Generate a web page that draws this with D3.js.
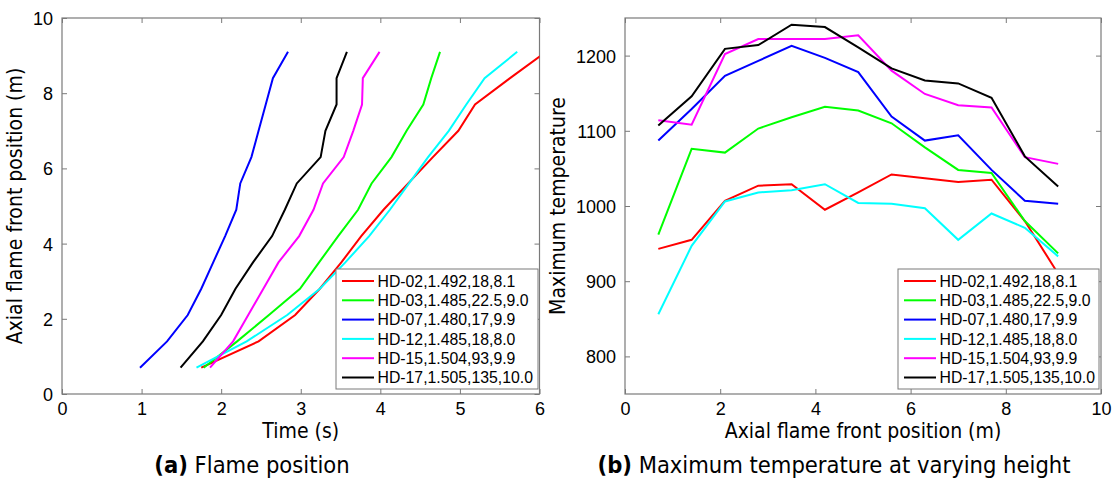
<!DOCTYPE html>
<html>
<head>
<meta charset="utf-8">
<script src="https://cdn.jsdelivr.net/npm/d3@7"></script>
<style>
  body { margin: 0; background: #fff; }
  .tick text { font-family: "Liberation Sans", Arial, sans-serif; font-size: 18px; fill: #000; }
  .lbl { font-family: "DejaVu Sans Condensed", "DejaVu Sans", sans-serif; font-stretch: condensed; fill: #000; }
</style>
</head>
<body>
<div class="chart"></div>
<script>
var svgWidth = 1118;
var svgHeight = 492;

// series names (legend)
var series = ["HD-02,1.492,18,8.1", "HD-03,1.485,22.5,9.0", "HD-07,1.480,17,9.9",
              "HD-12,1.485,18,8.0", "HD-15,1.504,93,9.9", "HD-17,1.505,135,10.0"];
var colors = ["#ff0000", "#00ff00", "#0000ff", "#00ffff", "#ff00ff", "#000000"];

// axial positions (m) where the flame front / temperature were recorded
var positions = [0.7, 1.4, 2.1, 2.8, 3.5, 4.2, 4.9, 5.6, 6.3, 7.0, 7.7, 8.4, 9.1];

// (a) time (s) at which the flame reaches each position
var timeHD02 = [1.75, 2.47, 2.93, 3.24, 3.51, 3.76, 4.04, 4.35, 4.66, 4.98, 5.19, 5.63, 6.08];
var timeHD03 = [1.78, 2.2, 2.6, 2.99, 3.23, 3.47, 3.72, 3.89, 4.14, 4.33, 4.54, 4.64, 4.75];
var timeHD07 = [0.98, 1.32, 1.58, 1.75, 1.9, 2.05, 2.19, 2.24, 2.38, 2.47, 2.56, 2.65, 2.84];
var timeHD12 = [1.69, 2.32, 2.83, 3.24, 3.56, 3.86, 4.12, 4.36, 4.6, 4.86, 5.08, 5.31, 5.72];
var timeHD15 = [1.86, 2.15, 2.34, 2.53, 2.72, 2.98, 3.16, 3.28, 3.54, 3.66, 3.77, 3.78, 3.99];
var timeHD17 = [1.49, 1.77, 2.0, 2.18, 2.4, 2.64, 2.8, 2.95, 3.25, 3.31, 3.45, 3.45, 3.58];

// (b) maximum temperature at each position
var tempHD02 = [943, 955, 1007, 1027, 1029, 995, 1018, 1042, 1037, 1032, 1035, 980, 910];
var tempHD03 = [962, 1076, 1071, 1103, 1118, 1132, 1127, 1110, 1078, 1048, 1044, 980, 937];
var tempHD07 = [1087, 1129, 1173, 1193, 1213, 1197, 1178, 1119, 1087, 1094, 1048, 1007, 1003];
var tempHD12 = [856, 947, 1006, 1018, 1021, 1029, 1004, 1003, 997, 955, 990, 971, 933];
var tempHD15 = [1114, 1108, 1202, 1222, 1222, 1222, 1227, 1180, 1149, 1134, 1131, 1065, 1056];
var tempHD17 = [1107, 1146, 1209, 1214, 1241, 1238, 1211, 1183, 1167, 1163, 1144, 1066, 1026];

var xTicksA = [0, 1, 2, 3, 4, 5, 6];
var yTicksA = [0, 2, 4, 6, 8, 10];
var xTicksB = [0, 2, 4, 6, 8, 10];
var yTicksB = [800, 900, 1000, 1100, 1200];

var timeData = [timeHD02, timeHD03, timeHD07, timeHD12, timeHD15, timeHD17];
var tempData = [tempHD02, tempHD03, tempHD07, tempHD12, tempHD15, tempHD17];

var svg = d3.select(".chart").append("svg")
    .attr("width", svgWidth)
    .attr("height", svgHeight);

var axisColor = "#7a7a7a";
var fmt = d => String(d);

function drawPanel(opt) {
  var x = d3.scaleLinear().domain(opt.xDomain).range([opt.left, opt.right]);
  var y = d3.scaleLinear().domain(opt.yDomain).range([opt.bottom, opt.top]);

  svg.append("clipPath").attr("id", opt.id)
    .append("rect")
    .attr("x", opt.left).attr("y", opt.top)
    .attr("width", opt.right - opt.left).attr("height", opt.bottom - opt.top);

  // inward ticks on all four sides
  svg.append("g").attr("transform", `translate(0, ${opt.bottom})`)
    .call(d3.axisBottom(x).tickValues(opt.xTicks).tickFormat(fmt).tickSizeInner(-5).tickSizeOuter(0).tickPadding(8));
  svg.append("g").attr("transform", `translate(0, ${opt.top})`)
    .call(d3.axisTop(x).tickValues(opt.xTicks).tickSizeInner(-5).tickSizeOuter(0).tickFormat(""));
  var gy = svg.append("g").attr("transform", `translate(${opt.left}, 0)`)
    .call(d3.axisLeft(y).tickValues(opt.yTicks).tickFormat(fmt).tickSizeInner(-5).tickSizeOuter(0).tickPadding(9));
  svg.append("g").attr("transform", `translate(${opt.right}, 0)`)
    .call(d3.axisRight(y).tickValues(opt.yTicks).tickSizeInner(-5).tickSizeOuter(0).tickFormat(""));

  svg.selectAll(".domain").remove();
  svg.selectAll(".tick line").attr("stroke", axisColor);

  gy.selectAll(".tick text").attr("dy", "0.36em");

  svg.append("rect")
    .attr("x", opt.left).attr("y", opt.top)
    .attr("width", opt.right - opt.left).attr("height", opt.bottom - opt.top)
    .attr("fill", "none").attr("stroke", axisColor).attr("stroke-width", 1.2);

  var line = d3.line()
    .x(d => x(d[0]))
    .y(d => y(d[1]));

  var plot = svg.append("g").attr("clip-path", `url(#${opt.id})`);
  opt.data.forEach(function(s, i) {
    plot.append("path")
      .datum(s)
      .attr("d", line)
      .attr("fill", "none")
      .attr("stroke", colors[i])
      .attr("stroke-width", 2)
      .attr("stroke-linejoin", "miter");
  });

  // legend
  var lg = svg.append("g").attr("transform", `translate(${opt.legX}, ${opt.legY})`);
  lg.append("rect")
    .attr("width", opt.legW).attr("height", 120)
    .attr("fill", "#fff").attr("stroke", axisColor).attr("stroke-width", 1);
  series.forEach(function(name, i) {
    var cy = 12 + i * 19.3;
    lg.append("line")
      .attr("x1", 6).attr("x2", 38).attr("y1", cy).attr("y2", cy)
      .attr("stroke", colors[i]).attr("stroke-width", 2);
    lg.append("text")
      .attr("x", 41.5).attr("y", cy).attr("dy", "0.36em")
      .style("font-family", "'Liberation Sans', Arial, sans-serif")
      .style("font-size", "15.8px")
      .text(name);
  });

  // axis labels
  svg.append("text").attr("class", "lbl")
    .attr("x", (opt.left + opt.right) / 2).attr("y", 438)
    .attr("text-anchor", "middle").style("font-size", "21px")
    .text(opt.xLabel);
  svg.append("text").attr("class", "lbl")
    .attr("transform", `translate(${opt.yLabelX}, ${(opt.top + opt.bottom) / 2}) rotate(-90)`)
    .attr("text-anchor", "middle").style("font-size", "21px")
    .text(opt.yLabel);

  // caption
  var cap = svg.append("text").attr("class", "lbl")
    .attr("x", opt.capX).attr("y", 473)
    .attr("text-anchor", "middle").style("font-size", "23.5px");
  cap.append("tspan").attr("font-weight", "bold").text(opt.capTag);
  cap.append("tspan").text(" " + opt.caption);
}

drawPanel({
  id: "clipA",
  left: 62, right: 539.5, top: 18, bottom: 394,
  xDomain: [0, 6], yDomain: [0, 10],
  xTicks: xTicksA, yTicks: yTicksA,
  data: timeData.map(t => t.map((v, j) => [v, positions[j]])),
  legX: 336, legY: 269, legW: 202,
  xLabel: "Time (s)", yLabel: "Axial flame front position (m)", yLabelX: 22,
  capX: 252, capTag: "(a)", caption: "Flame position"
});

drawPanel({
  id: "clipB",
  left: 625, right: 1101, top: 18, bottom: 394,
  xDomain: [0, 10], yDomain: [750, 1250],
  xTicks: xTicksB, yTicks: yTicksB,
  data: tempData.map(t => t.map((v, j) => [positions[j], v])),
  legX: 898, legY: 269, legW: 201,
  xLabel: "Axial flame front position (m)", yLabel: "Maximum temperature", yLabelX: 565,
  capX: 834, capTag: "(b)", caption: "Maximum temperature at varying height"
});
</script>
</body>
</html>
